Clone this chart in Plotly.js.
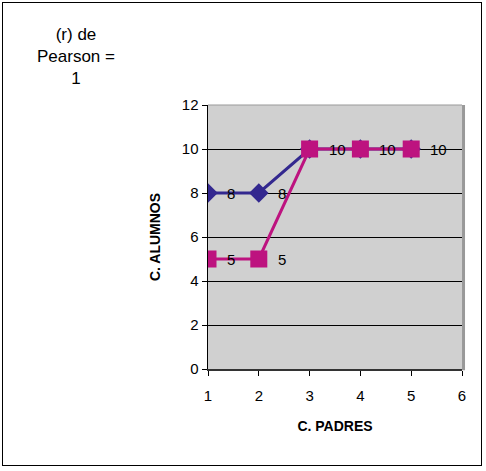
<!DOCTYPE html>
<html><head><meta charset="utf-8">
<script src="https://cdn.plot.ly/plotly-3.0.1.min.js"></script>
<style>
body{margin:0;background:#fff;}
#wrap{position:relative;width:486px;height:471px;}
#chart{width:486px;height:471px;}
#frame{position:absolute;left:2px;top:2px;width:478px;height:462px;border:1.5px solid #000;pointer-events:none;}
</style></head>
<body>
<div id="wrap"><div id="chart"></div><div id="frame"></div></div>
<script>
const padres = [1, 2, 3, 4, 5];
const alumnosA = [8, 8, 10, 10, 10];
const alumnosB = [5, 5, 10, 10, 10];
const xTicks = [1, 2, 3, 4, 5, 6];
const yTicks = [0, 2, 4, 6, 8, 10, 12];
const titleText = '(r) de<br>Pearson =<br>1';

const blue = '#33288f';
const pink = '#bd137f';
const FONT = 'Liberation Sans, Arial, sans-serif';

const traces = [
  {x: padres, y: alumnosA, mode: 'lines+markers', type: 'scatter',
   line: {color: blue, width: 3}, marker: {symbol: 'diamond', size: 15, color: blue}},
  {x: padres, y: alumnosB, mode: 'lines+markers', type: 'scatter',
   line: {color: pink, width: 3}, marker: {symbol: 'square', size: 17, color: pink}}
];

const annotations = [];
function addLabels(xs, ys, other) {
  xs.forEach((x, i) => {
    if (other && other[i] === ys[i]) return;
    annotations.push({
      x: x, y: ys[i], xref: 'x', yref: 'y', text: String(ys[i]), showarrow: false,
      xanchor: 'left', yanchor: 'middle', xshift: 17,
      font: {family: FONT, size: 15, color: '#000'}
    });
  });
}
addLabels(padres, alumnosA, alumnosB);
addLabels(padres, alumnosB, null);
annotations.push({
  x: (76 - 208) / 254, y: (369 - 23) / 264, xref: 'paper', yref: 'paper',
  xanchor: 'center', yanchor: 'top',
  text: titleText, showarrow: false, align: 'center',
  font: {family: FONT, size: 17, color: '#000'}
});

const layout = {
  width: 486, height: 471,
  margin: {l: 208, r: 24, t: 105, b: 102},
  paper_bgcolor: '#fff', plot_bgcolor: '#d0d0d0',
  showlegend: false,
  font: {family: FONT, size: 15, color: '#000'},
  xaxis: {range: [1, 6], tickvals: xTicks, ticks: 'outside', ticklen: 5, tickcolor: '#000',
          ticklabelstandoff: 7,
          showline: true, linecolor: '#333', linewidth: 2, showgrid: false, zeroline: false,
          title: {text: '<b>C. PADRES</b>', font: {size: 14}, standoff: 18}},
  yaxis: {range: [0, 12], tickvals: yTicks, ticks: 'outside', ticklen: 5, tickcolor: '#000',
          showline: true, linecolor: '#000', linewidth: 1.5, showgrid: true, gridcolor: '#000', gridwidth: 1,
          zeroline: false,
          title: {text: '<b>C. ALUMNOS</b>', font: {size: 14}, standoff: 18}},
  shapes: [
    {type: 'line', xref: 'paper', yref: 'paper', x0: 1.006, x1: 1.006, y0: -0.005, y1: 1, line: {color: '#999', width: 3}},
    {type: 'line', xref: 'paper', yref: 'paper', x0: 0, x1: 1, y0: 1, y1: 1, line: {color: '#999', width: 1}}
  ],
  annotations: annotations
};

Plotly.newPlot('chart', traces, layout, {displayModeBar: false, staticPlot: true});
</script>
</body></html>
